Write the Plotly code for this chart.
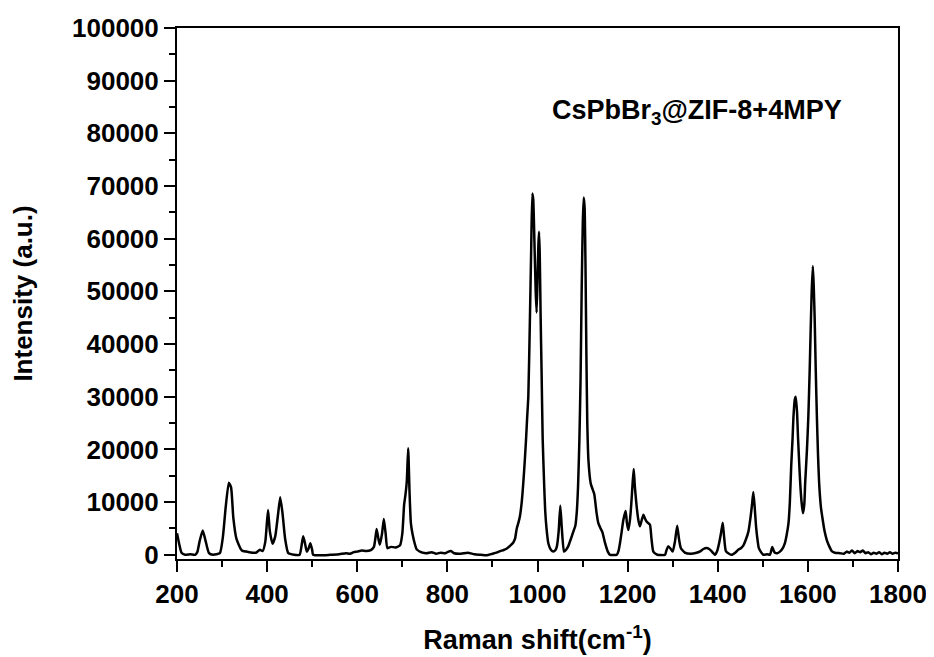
import plotly.graph_objects as go

raman_shift = [
    200, 205, 210, 218, 230, 240, 245, 250, 257, 263, 271, 280, 295, 302, 308, 315, 320, 325, 332, 344,
    360, 375, 384, 390, 396, 402, 406, 412, 418, 424, 429, 434, 440, 447, 460, 472, 476, 480, 484, 488,
    492, 496, 500, 502, 520, 540, 560, 575, 584, 592, 600, 610, 620, 630, 637, 640, 643, 647, 650, 655,
    659, 663, 667, 675, 685, 695, 700, 704, 707, 710, 713, 716, 719, 723, 728, 732, 745, 754, 765, 775,
    785, 795, 800, 808, 815, 830, 845, 860, 875, 887, 900, 909, 917, 925, 932, 939, 946, 950, 954, 958,
    961, 965, 968.5, 971.5, 974.5, 977, 979.6, 983, 986, 988.5, 990.5, 993, 996, 998, 1000, 1002, 1003.5,
    1005, 1007, 1009, 1011.5, 1014.5, 1017, 1020, 1024, 1030, 1035, 1040, 1043, 1047, 1050.6, 1054,
    1058.8, 1063, 1068, 1074, 1079.5, 1084, 1087, 1090, 1093, 1095.5, 1098, 1100.5, 1102.5, 1104.5,
    1106.5, 1108.5, 1110.5, 1113, 1118, 1122, 1126, 1131, 1135, 1140, 1144, 1150, 1156, 1161, 1176,
    1180, 1183, 1187, 1190.5, 1195.6, 1198.5, 1201.5, 1205, 1208, 1211, 1213.5, 1216, 1220, 1224,
    1227.4, 1231, 1235, 1238, 1242, 1246, 1249.6, 1253, 1257, 1266, 1283, 1286, 1290, 1295, 1300,
    1305, 1310, 1314, 1318, 1327, 1340, 1353, 1362, 1368, 1375, 1381, 1386, 1394, 1399, 1403, 1407,
    1411, 1414, 1418, 1425, 1431, 1440, 1446, 1452, 1457, 1462, 1468, 1473, 1476, 1479, 1482, 1485,
    1488, 1491, 1496, 1501, 1510, 1516, 1519, 1521, 1524, 1527, 1532, 1538, 1544, 1549, 1553, 1557,
    1560, 1563, 1566, 1568, 1571, 1573, 1576, 1578, 1581, 1583, 1586, 1589, 1592, 1594, 1598, 1601,
    1604, 1606, 1608.5, 1611, 1613, 1615, 1617.5, 1620, 1622.5, 1625, 1629, 1633, 1637, 1642, 1648,
    1653, 1660, 1671, 1680, 1686, 1692, 1698, 1704, 1710, 1716, 1722, 1728, 1734, 1740, 1746, 1752,
    1758, 1764, 1770, 1776, 1782, 1788, 1794, 1800,
]

intensity = [
    4100, 2000, 400, 0, 100, 0, 500, 2500, 4600, 2800, 300, 0, 300, 3500, 9000, 13700, 12800, 7000, 3000, 800,
    500, 400, 950, 700, 2500, 8500, 4500, 2100, 3500, 7500, 10900, 8000, 3000, 300, 0, 0, 1500, 3500, 2200, 600,
    1200, 2200, 900, 0, -100, 0, 100, 300, 200, 500, 600, 800, 700, 900, 1500, 3000, 4900, 3000, 1900, 4000,
    6800, 4000, 1250, 1500, 1400, 1800, 4000, 9500, 11400, 14000, 20200, 12000, 6000, 3800, 2000, 1000, 400, 300, 500, 200,
    400, 300, 500, 700, 300, 200, 400, 100, 0, -100, 200, 400, 700, 900, 1200, 1700, 2300, 3000, 5000, 6200,
    7300, 10000, 13700, 17500, 21800, 26000, 30000, 44000, 58000, 68600, 67500, 60000, 50000, 46000, 52000, 59000, 61300,
    57000, 45000, 35000, 22000, 14000, 8500, 5000, 2200, 900, 600, 900, 1600, 4500, 9300, 5000,
    600, 900, 1600, 3000, 4400, 5500, 7900, 13000, 22000, 33000, 50000, 63000, 67800, 66000,
    55000, 38000, 25000, 18000, 13600, 12500, 11500, 8000, 6000, 5000, 4300, 2200, 600, 0, 0,
    800, 2200, 4500, 6600, 8300, 6000, 4700, 6500, 9500, 13500, 16300, 13000, 9200, 6500,
    5400, 6500, 7600, 7000, 6300, 6000, 5700, 3000, 600, 0, 0, 800, 1600, 1200, 600,
    2500, 5500, 3000, 1300, 400, 200, 400, 700, 1100, 1300, 1100, 700, 0, 800, 2200, 4000,
    6100, 3500, 700, 200, 0, 500, 1000, 1300, 1800, 2800, 4400, 7300, 9500, 11900, 9000, 5400,
    3000, 1300, 500, 0, 100, 0, 900, 1500, 800, 400, 300, 600, 1200, 2200, 3800, 6000,
    10000, 16800, 22000, 26200, 29500, 30000, 27000, 22500, 17000, 13600, 10000, 7900, 9500, 13600, 20000, 26200,
    35000, 42000, 50000, 54800, 51000, 45200, 35000, 26200, 19000, 13600, 9000, 6600, 4500, 2800, 1500,
    700, 400, 300, 200, 600, 400, 800, 300, 700, 500, 800, 300, 500, 100, 400, 200,
    500, 100, 400, 200, 500, 200, 400, 300,
]

x_ticks = [200, 400, 600, 800, 1000, 1200, 1400, 1600, 1800]
y_ticks = [0, 10000, 20000, 30000, 40000, 50000, 60000, 70000, 80000, 90000, 100000]

sample_label = "CsPbBr<sub>3</sub>@ZIF-8+4MPY"
x_title = "Raman shift(cm<sup>-1</sup>)"
y_title = "Intensity (a.u.)"

FONT = "Liberation Sans, Arial, sans-serif"

fig = go.Figure()
fig.add_trace(go.Scatter(
    x=raman_shift, y=intensity, mode="lines",
    line=dict(color="black", width=2.5, shape="spline", smoothing=0.5),
    showlegend=False,
))

axis_common = dict(
    showline=True, linecolor="black", linewidth=2, mirror=True,
    ticks="outside", tickcolor="black", tickwidth=2, ticklen=11,
    showgrid=False, zeroline=False, automargin=False,
    tickfont=dict(family=FONT, size=26, color="black", weight="bold"),
)

fig.update_xaxes(
    range=[200, 1800], tickvals=x_ticks, ticktext=[str(v) for v in x_ticks],
    minor=dict(ticks="outside", ticklen=6, tickwidth=2, tickcolor="black", dtick=100, tick0=200, showgrid=False),
    title=dict(text=x_title, font=dict(family=FONT, size=27, color="black", weight="bold"), standoff=22),
    **axis_common,
)
fig.update_yaxes(
    range=[-800, 100000], tickvals=y_ticks, ticktext=[str(v) for v in y_ticks],
    minor=dict(ticks="outside", ticklen=6, tickwidth=2, tickcolor="black", dtick=5000, tick0=0, showgrid=False),
    title=dict(text=y_title, font=dict(family=FONT, size=26, color="black", weight="bold"), standoff=33),
    **axis_common,
)

fig.add_annotation(
    x=1028, y=84000, xref="x", yref="y", text=sample_label, showarrow=False,
    xanchor="left", yanchor="middle",
    font=dict(family=FONT, size=27, color="black", weight="bold"),
)

# the page body adds an 8 px offset, so the figure is sized to keep the plot box in place
fig.update_layout(
    width=926, height=649,
    margin=dict(l=169, r=36, t=20, b=98),
    paper_bgcolor="white", plot_bgcolor="white",
)

fig.write_html("out.html")
